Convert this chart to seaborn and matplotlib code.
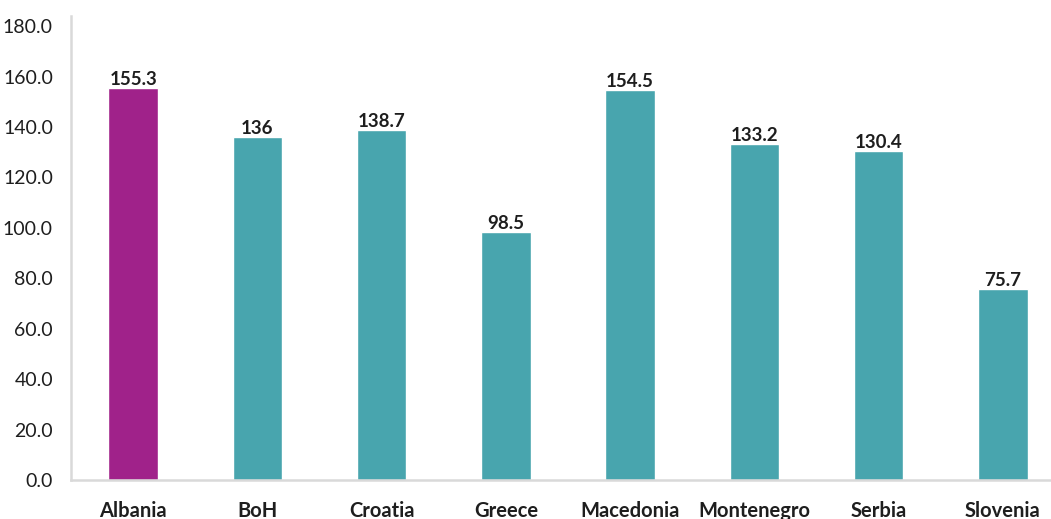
import matplotlib
matplotlib.use("Agg")
import matplotlib.pyplot as plt
from matplotlib import font_manager
from matplotlib.ticker import FixedLocator, NullFormatter
import seaborn as sns

countries = ["Albania", "BoH", "Croatia", "Greece", "Macedonia", "Montenegro", "Serbia", "Slovenia"]
values = [155.3, 136, 138.7, 98.5, 154.5, 133.2, 130.4, 75.7]
highlight = "Albania"

PURPLE = "#A0228A"
TEAL = "#48A5AE"
GRID = "#D9D9D9"
TEXT = "#1E1E1E"

sns.set_theme(style="white")
installed = {f.name for f in font_manager.fontManager.ttflist}
family = [f for f in ["Liberation Sans Narrow", "Lato", "DejaVu Sans"] if f in installed]
plt.rcParams["font.family"] = family

fig = plt.figure(figsize=(10.51, 5.19), dpi=100)
ax = fig.add_axes([71 / 1051, 39 / 519, 994 / 1051, 464 / 519])

palette = {c: (PURPLE if c == highlight else TEAL) for c in countries}
sns.barplot(x=countries, y=values, hue=countries, palette=palette, width=0.4,
            legend=False, ax=ax, saturation=1)

for cont, v in zip(ax.containers, values):
    ax.bar_label(cont, labels=[f"{v:g}"], padding=0, fontsize=13.5, fontweight="bold",
                 color=TEXT)

ax.set_xlim(-0.5, len(countries) - 0.5)
ax.set_ylim(0, 184)
ax.yaxis.set_major_locator(FixedLocator(list(range(0, 181, 20))))
ax.set_yticklabels([f"{t:.1f}" for t in range(0, 181, 20)])

ax.set_xticks(range(len(countries)))
ax.set_xticklabels(countries, fontsize=14.5, fontweight="bold", color=TEXT)
ax.tick_params(axis="x", which="major", length=0, pad=15)
ax.xaxis.set_minor_locator(FixedLocator([i - 0.5 for i in range(len(countries) + 1)]))
ax.xaxis.set_minor_formatter(NullFormatter())
ax.tick_params(axis="x", which="minor", direction="out", length=8, width=1.8, color=GRID)
ax.tick_params(axis="y", direction="out", length=9, width=1.8, color=GRID,
               labelsize=14, labelcolor=TEXT, pad=4)

ax.set_xlabel("")
ax.set_ylabel("")
for side in ["top", "right"]:
    ax.spines[side].set_visible(False)
for side in ["left", "bottom"]:
    ax.spines[side].set_color(GRID)
    ax.spines[side].set_linewidth(1.8)
ax.grid(False)

fig.savefig("out.png", dpi=100)
